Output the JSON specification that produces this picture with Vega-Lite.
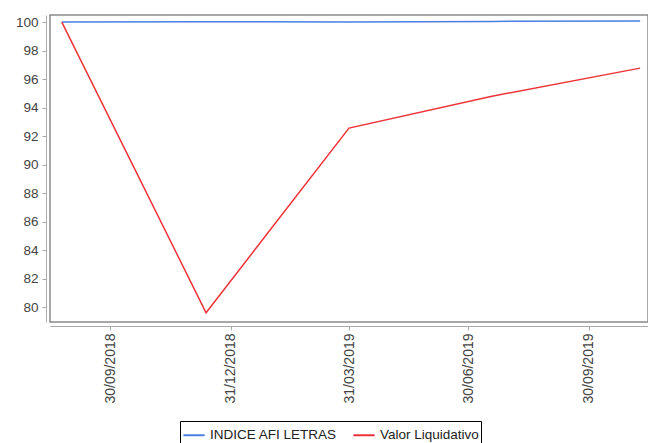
{
  "$schema": "https://vega.github.io/schema/vega-lite/v6.json",
  "width": 598,
  "height": 307,
  "autosize": {"type": "none"},
  "padding": {"left": 50, "top": 15, "right": 0, "bottom": 121},
  "background": "white",
  "config": {
    "view": {"stroke": "#8a8a8a", "strokeWidth": 1.5},
    "font": "Liberation Sans"
  },
  "data": {
    "values": [
      {"date": "2018-08-24", "serie": "INDICE AFI LETRAS", "valor": 100.0},
      {"date": "2018-12-12", "serie": "INDICE AFI LETRAS", "valor": 100.03},
      {"date": "2019-03-31", "serie": "INDICE AFI LETRAS", "valor": 100.0},
      {"date": "2019-07-18", "serie": "INDICE AFI LETRAS", "valor": 100.05},
      {"date": "2019-11-08", "serie": "INDICE AFI LETRAS", "valor": 100.08},
      {"date": "2018-08-24", "serie": "Valor Liquidativo", "valor": 100.0},
      {"date": "2018-12-12", "serie": "Valor Liquidativo", "valor": 79.6},
      {"date": "2019-03-31", "serie": "Valor Liquidativo", "valor": 92.56},
      {"date": "2019-07-18", "serie": "Valor Liquidativo", "valor": 94.8},
      {"date": "2019-11-08", "serie": "Valor Liquidativo", "valor": 96.77}
    ]
  },
  "mark": {"type": "line", "strokeWidth": 1.5, "clip": true},
  "encoding": {
    "x": {
      "field": "date",
      "type": "temporal",
      "scale": {"domain": ["2018-08-15", "2019-11-14"]},
      "axis": {
        "title": null,
        "values": ["2018-09-30", "2018-12-31", "2019-03-31", "2019-06-30", "2019-09-30"],
        "format": "%d/%m/%Y",
        "labelAngle": -90,
        "labelAlign": "right",
        "labelBaseline": "middle",
        "labelFontSize": 14,
        "labelColor": "#444444",
        "labelPadding": 3,
        "offset": 4,
        "domainColor": "#aaaaaa",
        "tickColor": "#aaaaaa",
        "tickSize": 4,
        "grid": false
      }
    },
    "y": {
      "field": "valor",
      "type": "quantitative",
      "scale": {"domain": [78.95, 100.5], "nice": false, "zero": false},
      "axis": {
        "title": null,
        "values": [80, 82, 84, 86, 88, 90, 92, 94, 96, 98, 100],
        "labelFontSize": 13.5,
        "labelColor": "#444444",
        "labelPadding": 4,
        "offset": 4,
        "domainColor": "#aaaaaa",
        "tickColor": "#aaaaaa",
        "tickSize": 4,
        "grid": false
      }
    },
    "color": {
      "field": "serie",
      "type": "nominal",
      "scale": {"domain": ["INDICE AFI LETRAS", "Valor Liquidativo"], "range": ["#4a7ee0", "#ee3338"]},
      "legend": {
        "title": null,
        "orient": "none",
        "legendX": 130,
        "legendY": 406,
        "direction": "horizontal",
        "symbolType": "stroke",
        "symbolSize": 450,
        "symbolStrokeWidth": 2,
        "labelFontSize": 13.5,
        "labelColor": "#222222",
        "strokeColor": "#000000",
        "padding": 2,
        "columnPadding": 12,
        "labelOffset": 4,
        "labelLimit": 300
      }
    }
  }
}
